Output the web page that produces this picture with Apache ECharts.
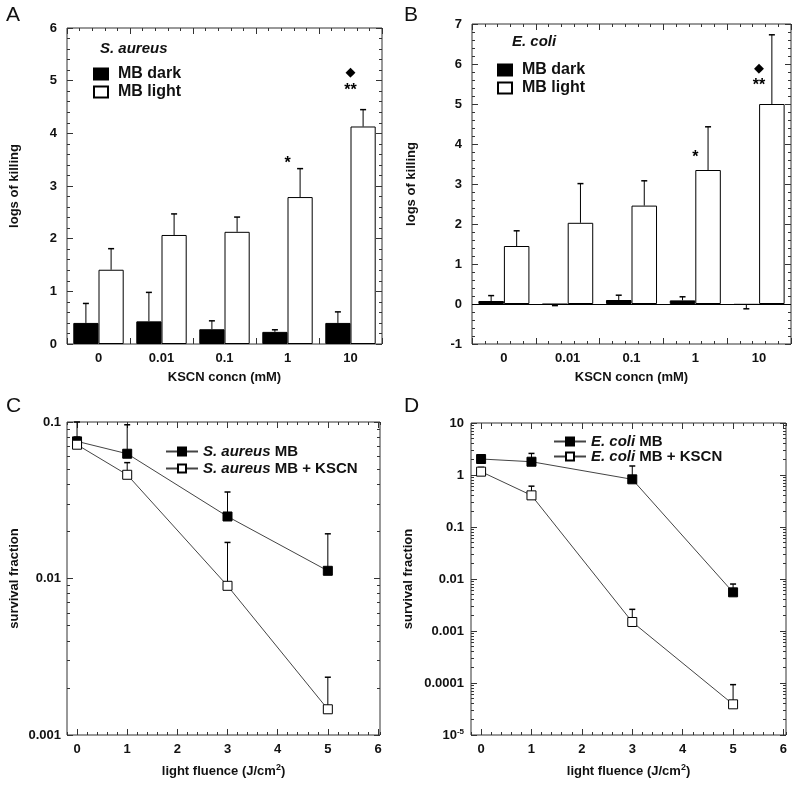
<!DOCTYPE html>
<html><head><meta charset="utf-8">
<script src="https://cdn.jsdelivr.net/npm/echarts@6/dist/echarts.min.js"></script>
<style>html,body{margin:0;padding:0;background:#fff}#c{width:800px;height:788px}</style>
</head><body><div id="c"></div>
<script>
// ---------- DATA ----------
const kscnCats = ['0', '0.01', '0.1', '1', '10'];
// Panel A: S. aureus
const A_dark = [0.40, 0.43, 0.28, 0.23, 0.40];
const A_darkSD = [0.37, 0.55, 0.16, 0.04, 0.21];
const A_light = [1.41, 2.07, 2.13, 2.79, 4.13];
const A_lightSD = [0.40, 0.40, 0.28, 0.54, 0.32];
const A_sigCat = [3, 4, 4];
const A_sigY = [3.51, 4.88, 5.16];
const A_sigText = ['*', '**', '\u25C6'];
// Panel B: E. coli
const B_dark = [0.075, -0.01, 0.10, 0.09, -0.02];
const B_darkSD = [0.135, 0.03, 0.12, 0.09, 0.10];
const B_light = [1.45, 2.03, 2.46, 3.35, 5.00];
const B_lightSD = [0.38, 0.98, 0.62, 1.08, 1.73];
const B_sigCat = [3, 4, 4];
const B_sigY = [3.77, 5.57, 5.89];
const B_sigText = ['*', '**', '\u25C6'];
// Panels C, D: survival vs light fluence
const fluence = [0, 1, 3, 5];
const C_MB = [0.0752, 0.0627, 0.0249, 0.0112];
const C_MB_upper = [0.100, 0.096, 0.0357, 0.0193];
const C_KSCN = [0.0716, 0.046, 0.00898, 0.00146];
const C_KSCN_upper = [0.080, 0.055, 0.0170, 0.00234];
const D_MB = [2.03, 1.80, 0.826, 0.00554];
const D_MB_upper = [2.3, 2.6, 1.49, 0.0080];
const D_KSCN = [1.16, 0.406, 0.00149, 0.0000389];
const D_KSCN_upper = [1.4, 0.61, 0.00261, 0.000093];
const C_yTicks = [0.001, 0.01, 0.1];
const D_yTicks = [0.00001, 0.0001, 0.001, 0.01, 0.1, 1, 10];
const xFluenceTicks = [0, 1, 2, 3, 4, 5, 6];

// ---------- HELPERS ----------
const FONT = 'Liberation Sans, Arial, sans-serif';
const INK = '#111';
const LINE = '#333';
const lblStyle = {fontFamily: FONT, fontWeight: 'bold', fontSize: 13, color: INK};
const nameStyle = {fontFamily: FONT, fontWeight: 'bold', fontSize: 13, color: INK,
  rich: {sup: {fontFamily: FONT, fontWeight: 'bold', fontSize: 9, color: INK, verticalAlign: 'top', padding: [0, 0, 8, 0]}}};

const grids = [
  {left: 67, top: 28, width: 315, height: 316},
  {left: 472, top: 24, width: 319, height: 320},
  {left: 67, top: 422, width: 313, height: 313},
  {left: 471, top: 423, width: 315, height: 312}
].map(g => Object.assign(g, {show: true, borderColor: LINE, borderWidth: 1, containLabel: false}));

const xAxes = [], yAxes = [], series = [], legends = [], graphics = [];
const addX = o => (xAxes.push(o), xAxes.length - 1);
const addY = o => (yAxes.push(o), yAxes.length - 1);
const noLine = {show: false, onZero: false};
const tickMaj = {show: true, inside: true, length: 6, lineStyle: {color: LINE, width: 1}};
const tickMin = {show: true, inside: true, length: 3, lineStyle: {color: LINE, width: 1}};

function barPanel(gi, dark, darkSD, light, lightSD, sigCat, sigY, sigText, ymin, ymax, yGap, zeroLine) {
  const xc = addX({type: 'category', gridIndex: gi, data: kscnCats, position: 'bottom',
    axisLine: noLine, axisTick: {show: false}, splitLine: {show: false},
    axisLabel: Object.assign({margin: 8}, lblStyle),
    name: 'KSCN concn (mM)', nameLocation: 'middle', nameGap: 27, nameTextStyle: nameStyle});
  ['bottom', 'top'].forEach(pos => addX({type: 'value', gridIndex: gi, min: 0, max: kscnCats.length, interval: 1,
    position: pos, axisLine: noLine, axisLabel: {show: false}, splitLine: {show: false},
    axisTick: tickMaj, minorTick: {show: true, splitNumber: 5, length: 3, lineStyle: {color: LINE}}}));
  const yl = addY({type: 'value', gridIndex: gi, min: ymin, max: ymax, interval: 1, position: 'left',
    axisLine: noLine, splitLine: {show: false}, axisTick: tickMaj,
    minorTick: {show: true, splitNumber: 5, length: 3, lineStyle: {color: LINE}},
    axisLabel: Object.assign({margin: 10}, lblStyle),
    name: 'logs of killing', nameLocation: 'middle', nameGap: yGap, nameTextStyle: nameStyle});
  addY({type: 'value', gridIndex: gi, min: ymin, max: ymax, interval: 1, position: 'right',
    axisLine: noLine, splitLine: {show: false}, axisTick: tickMaj, axisLabel: {show: false},
    minorTick: {show: true, splitNumber: 5, length: 3, lineStyle: {color: LINE}}});
  series.push({type: 'bar', name: 'MB dark', xAxisIndex: xc, yAxisIndex: yl, data: dark.slice(),
    barWidth: '40%', barGap: '0%', itemStyle: {color: '#000', borderColor: '#000', borderWidth: 1}, z: 2});
  const lightSeries = {type: 'bar', name: 'MB light', xAxisIndex: xc, yAxisIndex: yl, data: light.slice(),
    barWidth: '40%', barGap: '0%', itemStyle: {color: '#fff', borderColor: '#000', borderWidth: 1}, z: 2};
  if (zeroLine) lightSeries.markLine = {silent: true, symbol: 'none', label: {show: false},
    lineStyle: {color: '#000', width: 1, type: 'solid'}, data: [{yAxis: 0}]};
  series.push(lightSeries);
  const errData = dark.map((v, i) => [i, v, darkSD[i], -1]).concat(light.map((v, i) => [i, v, lightSD[i], 1]));
  series.push({type: 'custom', xAxisIndex: xc, yAxisIndex: yl, data: errData, z: 3, silent: true,
    renderItem(params, api) {
      const ci = api.value(0), v = api.value(1), sd = api.value(2), side = api.value(3);
      const band = api.size([1, 0])[0];
      const dir = v < 0 ? -1 : 1;
      const p0 = api.coord([ci, v]), p1 = api.coord([ci, v + dir * sd]);
      const x = p0[0] + side * band * 0.2;
      return {type: 'group', children: [
        {type: 'line', shape: {x1: x, y1: p0[1], x2: x, y2: p1[1]}, style: {stroke: '#000', lineWidth: 1}},
        {type: 'line', shape: {x1: x - 3, y1: p1[1], x2: x + 3, y2: p1[1]}, style: {stroke: '#000', lineWidth: 1.5}}
      ]};
    }});
  series.push({type: 'custom', xAxisIndex: xc, yAxisIndex: yl, data: sigCat.map((c, i) => [c, sigY[i]]), z: 4, silent: true,
    renderItem(params, api) {
      const p = api.coord([api.value(0), api.value(1)]);
      const t = sigText[params.dataIndex];
      const isStar = t.indexOf('*') >= 0;
      return {type: 'text', x: p[0], y: p[1] + (isStar ? 4 : 0), style: {text: t, align: 'center', verticalAlign: 'middle',
        font: isStar ? 'bold 16px ' + FONT : '13px DejaVu Sans', fill: '#000'}};
    }});
}

function logMinors(ticks) {
  const out = [];
  for (let i = 0; i < ticks.length - 1; i++) for (let k = 2; k <= 9; k++) out.push(ticks[i] * k);
  return out;
}

function linePanel(gi, xmin, xmax, yTicks, yFmt, yGap, yMargin, defs) {
  const ymin = yTicks[0], ymax = yTicks[yTicks.length - 1];
  const xl = addX({type: 'value', gridIndex: gi, min: xmin, max: xmax, position: 'bottom',
    axisLine: noLine, splitLine: {show: false}, axisTick: {show: false},
    axisLabel: Object.assign({margin: 8, customValues: xFluenceTicks}, lblStyle),
    name: 'light fluence (J/cm{sup|2})', nameLocation: 'middle', nameGap: 28, nameTextStyle: nameStyle});
  ['bottom', 'top'].forEach(pos => {
    addX({type: 'value', gridIndex: gi, min: xmin, max: xmax, position: pos, axisLine: noLine, splitLine: {show: false},
      axisLabel: {show: false}, axisTick: Object.assign({customValues: xFluenceTicks}, tickMaj)});
    addX({type: 'value', gridIndex: gi, min: xmin, max: xmax, interval: 0.2, position: pos, axisLine: noLine, splitLine: {show: false},
      axisLabel: {show: false}, axisTick: tickMin});
  });
  const yl = addY({type: 'log', logBase: 10, gridIndex: gi, min: ymin, max: ymax, position: 'left',
    axisLine: noLine, splitLine: {show: false}, axisTick: Object.assign({customValues: yTicks}, tickMaj),
    axisLabel: Object.assign({margin: yMargin, customValues: yTicks, formatter: yFmt,
      rich: {b: {fontFamily: FONT, fontWeight: 'bold', fontSize: 13, color: INK},
             sup: {fontFamily: FONT, fontWeight: 'bold', fontSize: 8, color: INK, verticalAlign: 'top', padding: [0, 0, 6, 0]}}}, lblStyle),
    name: 'survival fraction', nameLocation: 'middle', nameGap: yGap, nameTextStyle: nameStyle});
  const minors = logMinors(yTicks);
  addY({type: 'log', logBase: 10, gridIndex: gi, min: ymin, max: ymax, position: 'right', axisLine: noLine, splitLine: {show: false},
    axisLabel: {show: false}, axisTick: Object.assign({customValues: yTicks}, tickMaj)});
  ['left', 'right'].forEach(pos => addY({type: 'log', logBase: 10, gridIndex: gi, min: ymin, max: ymax, position: pos,
    axisLine: noLine, splitLine: {show: false}, axisLabel: {show: false}, axisTick: Object.assign({customValues: minors}, tickMin)}));
  defs.forEach(d => {
    series.push({type: 'line', name: d.name, xAxisIndex: xl, yAxisIndex: yl, z: 3,
      data: fluence.map((x, i) => [x, d.vals[i]]),
      symbol: 'rect', symbolSize: 9, showAllSymbol: true,
      lineStyle: {color: '#444', width: 1},
      itemStyle: {color: d.filled ? '#000' : '#fff', borderColor: '#000', borderWidth: 1},
      emphasis: {disabled: true}});
    series.push({type: 'custom', xAxisIndex: xl, yAxisIndex: yl, z: 1, silent: true,
      data: fluence.map((x, i) => [x, d.vals[i], d.upper[i]]),
      renderItem(params, api) {
        const p0 = api.coord([api.value(0), api.value(1)]), p1 = api.coord([api.value(0), api.value(2)]);
        const x = p0[0];
        return {type: 'group', children: [
          {type: 'line', shape: {x1: x, y1: p0[1], x2: x, y2: p1[1]}, style: {stroke: '#000', lineWidth: 1}},
          {type: 'line', shape: {x1: x - 3, y1: p1[1], x2: x + 3, y2: p1[1]}, style: {stroke: '#000', lineWidth: 1.5}}
        ]};
      }});
  });
}

// ---------- BUILD ----------
barPanel(0, A_dark, A_darkSD, A_light, A_lightSD, A_sigCat, A_sigY, A_sigText, 0, 6, 46, false);
barPanel(1, B_dark, B_darkSD, B_light, B_lightSD, B_sigCat, B_sigY, B_sigText, -1, 7, 54, true);
linePanel(2, -0.2, 6.04, C_yTicks, v => '{b|' + String(v) + '}', 46, 6, [
  {name: 'S. aureus MB', vals: C_MB, upper: C_MB_upper, filled: true},
  {name: 'S. aureus MB + KSCN', vals: C_KSCN, upper: C_KSCN_upper, filled: false}]);
linePanel(3, -0.2, 6.05, D_yTicks, v => v < 5e-5 ? '{b|10}{sup|-5}' : '{b|' + String(v) + '}', 56, 7, [
  {name: 'E. coli MB', vals: D_MB, upper: D_MB_upper, filled: true},
  {name: 'E. coli MB + KSCN', vals: D_KSCN, upper: D_KSCN_upper, filled: false}]);

const legTxt = {fontFamily: FONT, fontWeight: 'bold', fontSize: 15, color: INK,
  rich: {i: {fontFamily: FONT, fontWeight: 'bold', fontStyle: 'italic', fontSize: 15, color: INK}}};
const barLegTxt = {fontFamily: FONT, fontWeight: 'bold', fontSize: 16, color: INK, padding: [0, 0, 0, 5]};
const italicFmt = n => n.replace(/^(S\. aureus|E\. coli)/, '{i|$1}');
legends.push(
  {data: ['MB dark', 'MB light'], orient: 'vertical', left: 93, top: 66, padding: 0, icon: 'rect', itemWidth: 14, itemHeight: 11, itemGap: 2, textStyle: barLegTxt, selectedMode: false},
  {data: ['MB dark', 'MB light'], orient: 'vertical', left: 497, top: 62, padding: 0, icon: 'rect', itemWidth: 14, itemHeight: 11, itemGap: 2, textStyle: barLegTxt, selectedMode: false},
  {data: ['S. aureus MB', 'S. aureus MB + KSCN'], orient: 'vertical', left: 165, top: 444, padding: 0, itemWidth: 32, itemHeight: 10, itemGap: 2, textStyle: legTxt, formatter: italicFmt, selectedMode: false},
  {data: ['E. coli MB', 'E. coli MB + KSCN'], orient: 'vertical', left: 553, top: 434, padding: 0, itemWidth: 32, itemHeight: 10, itemGap: 0, textStyle: legTxt, formatter: italicFmt, selectedMode: false}
);
const letter = (t, x, y) => ({type: 'text', left: x, top: y, style: {text: t, font: '21px ' + FONT, fill: INK}});
graphics.push(letter('A', 6, 5), letter('B', 404, 5), letter('C', 6, 396), letter('D', 404, 396),
  {type: 'text', left: 100, top: 41, style: {text: 'S. aureus', font: 'italic bold 15px ' + FONT, fill: INK}},
  {type: 'text', left: 512, top: 34, style: {text: 'E. coli', font: 'italic bold 15px ' + FONT, fill: INK}});

const chart = echarts.init(document.getElementById('c'), null, {renderer: 'canvas'});
chart.setOption({animation: false, backgroundColor: '#fff', grid: grids, xAxis: xAxes, yAxis: yAxes,
  series: series, legend: legends, graphic: graphics});
</script></body></html>
